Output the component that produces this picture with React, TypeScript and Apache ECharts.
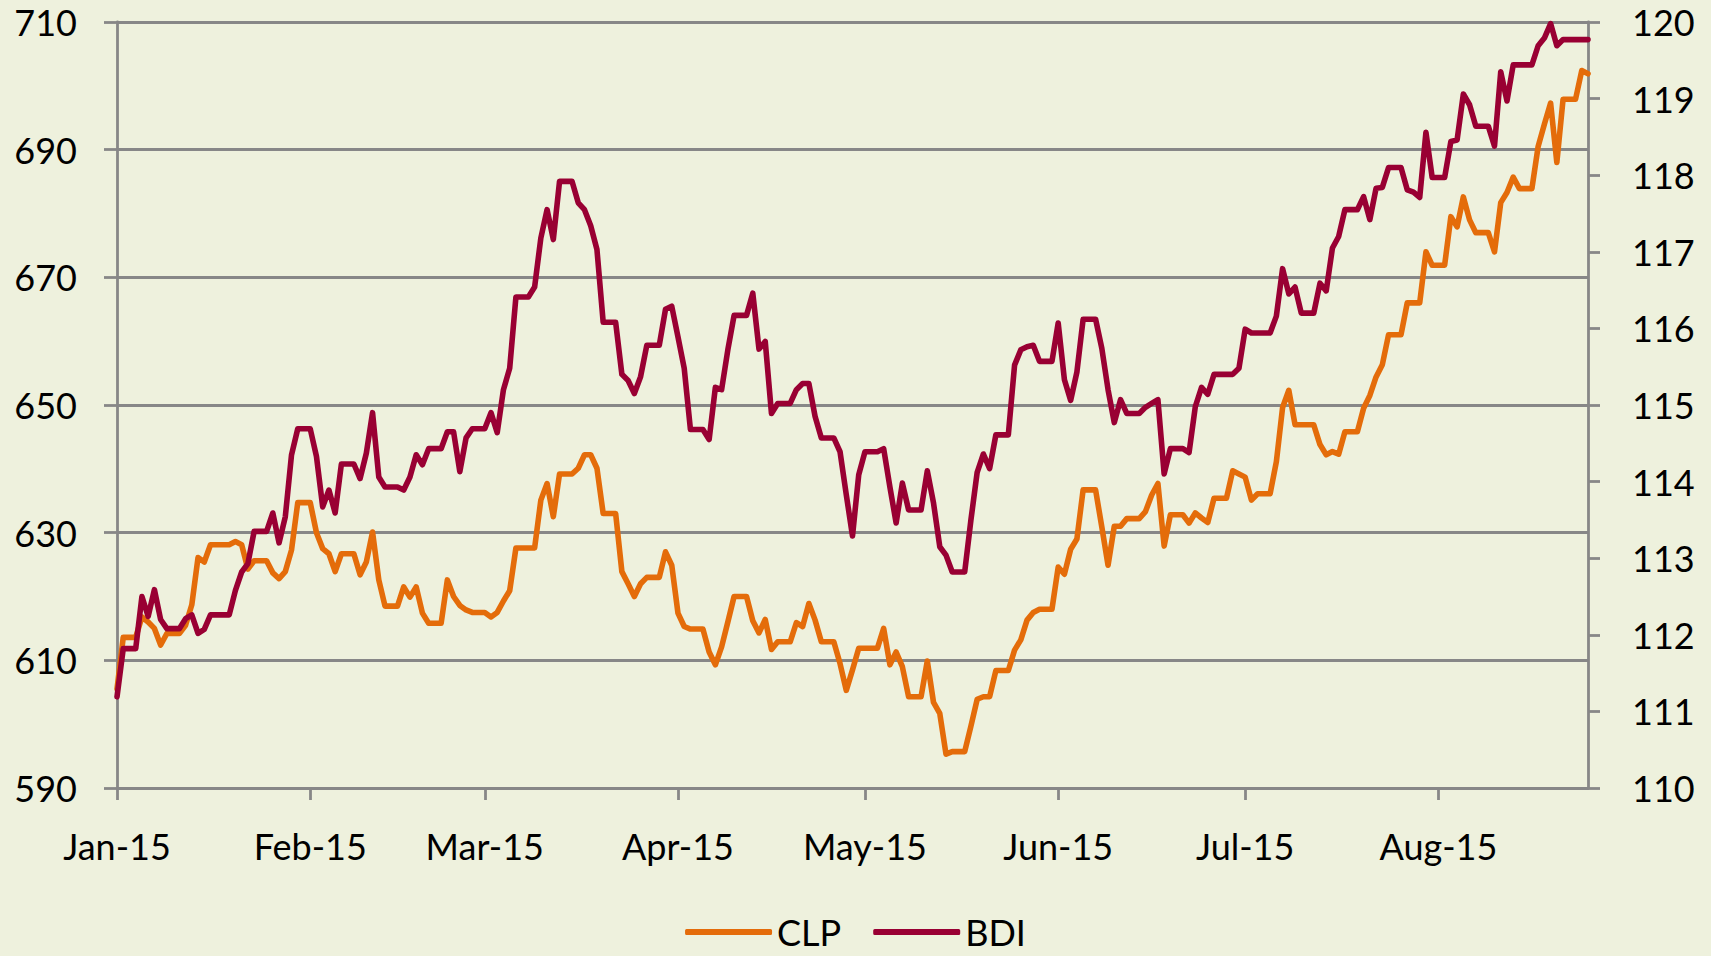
import React, { useEffect, useRef } from "react";
import * as echarts from "echarts";

// ---- data -------------------------------------------------------------
const START_YEAR = 2015;
const DAY_COUNT = 237; // 1 Jan 2015 .. 25 Aug 2015, daily
const MONTH_LABELS = ["Jan-15", "Feb-15", "Mar-15", "Apr-15", "May-15", "Jun-15", "Jul-15", "Aug-15", "Sep-15", "Oct-15", "Nov-15", "Dec-15"];
const SERIES_NAMES = ["CLP", "BDI"];

const CLP = [
  605.5, 613.6, 613.6, 613.6, 616.8, 616.0, 615.0, 612.4, 614.2, 614.2,
  614.2, 615.5, 618.7, 626.1, 625.4, 628.1, 628.1, 628.1, 628.1, 628.6,
  628.1, 624.3, 625.6, 625.6, 625.6, 623.7, 622.8, 623.9, 627.3, 634.7,
  634.7, 634.7, 630.0, 627.5, 626.7, 623.9, 626.7, 626.7, 626.7, 623.4,
  625.4, 630.1, 622.6, 618.5, 618.5, 618.5, 621.5, 619.9, 621.5, 617.4,
  615.8, 615.8, 615.8, 622.6, 620.0, 618.6, 617.9, 617.5, 617.5, 617.5,
  616.8, 617.5, 619.3, 620.9, 627.6, 627.6, 627.6, 627.6, 635.1, 637.7,
  632.5, 639.2, 639.2, 639.2, 640.1, 642.2, 642.2, 640.1, 633.0, 633.0,
  633.0, 623.9, 622.0, 620.0, 622.0, 623.0, 623.0, 623.0, 627.0, 624.9,
  617.4, 615.3, 614.9, 614.9, 614.9, 611.3, 609.3, 612.1, 616.0, 620.0,
  620.0, 620.0, 616.2, 614.3, 616.4, 611.7, 612.9, 612.9, 612.9, 615.9,
  615.3, 618.9, 616.3, 612.9, 612.9, 612.9, 609.5, 605.3, 608.5, 611.9,
  611.9, 611.9, 611.9, 615.0, 609.3, 611.3, 609.0, 604.3, 604.3, 604.3,
  609.9, 603.4, 601.7, 595.3, 595.7, 595.7, 595.7, 599.7, 603.9, 604.3,
  604.3, 608.4, 608.4, 608.4, 611.6, 613.2, 616.3, 617.5, 618.0, 618.0,
  618.0, 624.6, 623.5, 627.4, 629.0, 636.7, 636.7, 636.7, 630.9, 624.9,
  631.0, 631.0, 632.2, 632.2, 632.2, 633.3, 635.9, 637.7, 627.9, 632.8,
  632.8, 632.8, 631.5, 633.1, 632.3, 631.6, 635.4, 635.4, 635.4, 639.7,
  639.2, 638.7, 635.1, 636.1, 636.1, 636.1, 641.1, 649.6, 652.3, 646.9,
  646.9, 646.9, 646.9, 643.8, 642.2, 642.7, 642.3, 645.8, 645.8, 645.8,
  649.5, 651.5, 654.4, 656.3, 661.0, 661.0, 661.0, 666.0, 666.0, 666.0,
  674.0, 671.9, 671.9, 671.9, 679.5, 677.9, 682.6, 679.0, 677.0, 677.0,
  677.0, 674.0, 681.7, 683.3, 685.7, 683.9, 683.9, 683.9, 690.5, 694.0,
  697.3, 688.0, 697.9, 697.9, 697.9, 702.4, 701.9,
];

const BDI = [
  111.19, 111.82, 111.82, 111.82, 112.5, 112.24, 112.59, 112.2, 112.08, 112.08,
  112.08, 112.21, 112.26, 112.02, 112.07, 112.26, 112.26, 112.26, 112.26, 112.58,
  112.82, 112.93, 113.35, 113.35, 113.35, 113.59, 113.2, 113.54, 114.35, 114.69,
  114.69, 114.69, 114.33, 113.67, 113.89, 113.59, 114.23, 114.23, 114.23, 114.04,
  114.37, 114.9, 114.06, 113.93, 113.93, 113.93, 113.89, 114.06, 114.35, 114.22,
  114.43, 114.43, 114.43, 114.65, 114.65, 114.13, 114.57, 114.69, 114.69, 114.69,
  114.9, 114.64, 115.2, 115.48, 116.41, 116.41, 116.41, 116.54, 117.18, 117.55,
  117.16, 117.92, 117.92, 117.92, 117.64, 117.55, 117.34, 117.03, 116.08, 116.08,
  116.08, 115.4, 115.32, 115.15, 115.37, 115.78, 115.78, 115.78, 116.25, 116.29,
  115.89, 115.48, 114.68, 114.68, 114.68, 114.55, 115.23, 115.2, 115.72, 116.17,
  116.17, 116.17, 116.46, 115.73, 115.83, 114.89, 115.02, 115.02, 115.02, 115.2,
  115.28, 115.28, 114.85, 114.57, 114.57, 114.57, 114.39, 113.83, 113.29, 114.09,
  114.39, 114.39, 114.39, 114.43, 113.93, 113.46, 113.98, 113.63, 113.63, 113.63,
  114.14, 113.72, 113.15, 113.04, 112.82, 112.82, 112.82, 113.5, 114.12, 114.36,
  114.17, 114.61, 114.61, 114.61, 115.52, 115.72, 115.76, 115.78, 115.57, 115.57,
  115.57, 116.07, 115.33, 115.06, 115.43, 116.12, 116.12, 116.12, 115.74, 115.2,
  114.77, 115.07, 114.89, 114.89, 114.89, 114.97, 115.02, 115.07, 114.1, 114.43,
  114.43, 114.43, 114.38, 114.98, 115.23, 115.14, 115.4, 115.4, 115.4, 115.4,
  115.48, 115.99, 115.94, 115.94, 115.94, 115.94, 116.16, 116.78, 116.45, 116.54,
  116.2, 116.2, 116.2, 116.59, 116.49, 117.05, 117.2, 117.55, 117.55, 117.55,
  117.72, 117.42, 117.83, 117.84, 118.1, 118.1, 118.1, 117.81, 117.78, 117.71,
  118.56, 117.97, 117.97, 117.97, 118.44, 118.46, 119.06, 118.92, 118.64, 118.64,
  118.64, 118.38, 119.35, 118.97, 119.44, 119.44, 119.44, 119.44, 119.69, 119.79,
  119.98, 119.69, 119.77, 119.77, 119.77, 119.77, 119.77,
];

// axis ranges
const LEFT_MIN = 590;
const LEFT_MAX = 710;
const LEFT_STEP = 20;
const RIGHT_MIN = 110;
const RIGHT_MAX = 120;
const RIGHT_STEP = 1;

// ---- helpers ----------------------------------------------------------
function buildDates(): string[] {
  const out: string[] = [];
  for (let i = 0; i < DAY_COUNT; i++) {
    const d = new Date(Date.UTC(START_YEAR, 0, 1 + i));
    const m = String(d.getUTCMonth() + 1).padStart(2, "0");
    const day = String(d.getUTCDate()).padStart(2, "0");
    out.push(`${d.getUTCFullYear()}-${m}-${day}`);
  }
  return out;
}

const DATES = buildDates();
const isMonthStart = (_i: number, v: string) => v.slice(8, 10) === "01";
const monthLabel = (v: string) => MONTH_LABELS[parseInt(v.slice(5, 7), 10) - 1];

const FONT = "Lato";
const GRAY = "#878787";
const ORANGE = "#E46C0A";
const MAROON = "#990033";
const BG = "#EEF1DD";
const RULE_W = 2.8;
const LINE_W = 5.6;

export default function App() {
  const ref = useRef<HTMLDivElement>(null);

  useEffect(() => {
    if (!ref.current) return;
    const chart = echarts.init(ref.current, undefined, { renderer: "svg" });
    const axisText = { color: "#000", fontSize: 36, fontFamily: FONT };
    chart.setOption({
      animation: false,
      backgroundColor: BG,
      grid: { left: 117, right: 123, top: 22, bottom: 168, containLabel: false, outerBoundsMode: "none" },
      legend: {
        data: SERIES_NAMES,
        left: "center",
        top: 914,
        padding: 0,
        icon: "roundRect",
        itemWidth: 87,
        itemHeight: 6,
        itemGap: 32,
        textStyle: { ...axisText, lineHeight: 30 },
      },
      xAxis: {
        type: "category",
        data: DATES,
        boundaryGap: false,
        axisLine: { show: true, lineStyle: { color: GRAY, width: RULE_W } },
        axisTick: { show: true, interval: isMonthStart, length: 12, inside: false, lineStyle: { color: GRAY, width: RULE_W } },
        axisLabel: { interval: isMonthStart, formatter: monthLabel, margin: 40, ...axisText },
        splitLine: { show: false },
      },
      yAxis: [
        {
          type: "value",
          position: "left",
          min: LEFT_MIN,
          max: LEFT_MAX,
          interval: LEFT_STEP,
          axisLine: { show: true, lineStyle: { color: GRAY, width: RULE_W } },
          axisTick: { show: true, length: 13, inside: false, lineStyle: { color: GRAY, width: RULE_W } },
          axisLabel: { margin: 40, ...axisText },
          splitLine: { show: true, lineStyle: { color: GRAY, width: RULE_W } },
        },
        {
          type: "value",
          position: "right",
          min: RIGHT_MIN,
          max: RIGHT_MAX,
          interval: RIGHT_STEP,
          axisLine: { show: true, lineStyle: { color: GRAY, width: RULE_W } },
          axisTick: { show: true, length: 12, inside: false, lineStyle: { color: GRAY, width: RULE_W } },
          axisLabel: { margin: 44, ...axisText },
          splitLine: { show: false },
        },
      ],
      series: [
        {
          name: "CLP",
          type: "line",
          yAxisIndex: 0,
          data: CLP,
          showSymbol: false,
          symbol: "none",
          color: ORANGE,
          lineStyle: { color: ORANGE, width: LINE_W, cap: "round", join: "round" },
        },
        {
          name: "BDI",
          type: "line",
          yAxisIndex: 1,
          data: BDI,
          showSymbol: false,
          symbol: "none",
          color: MAROON,
          lineStyle: { color: MAROON, width: LINE_W, cap: "round", join: "round" },
        },
      ],
    });
    return () => chart.dispose();
  }, []);

  return (
    <div
      ref={ref}
      style={{ position: "fixed", left: 0, top: 0, width: 1711, height: 956, background: BG }}
    />
  );
}
